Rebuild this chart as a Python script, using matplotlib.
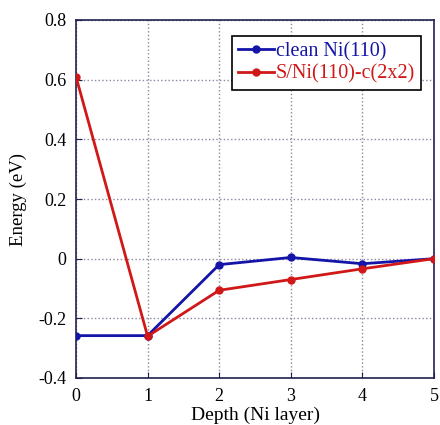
import matplotlib
matplotlib.use("Agg")
import matplotlib.pyplot as plt

depth = [0, 1, 2, 3, 4, 5]
clean = [-0.258, -0.258, -0.02, 0.004, -0.017, 0.0]
sulfur = [0.61, -0.26, -0.106, -0.07, -0.034, 0.0]
labels = ["clean Ni(110)", "S/Ni(110)-c(2x2)"]

plt.rcParams['font.family'] = ['Liberation Serif', 'DejaVu Serif']

fig = plt.figure(figsize=(4.4, 4.25), dpi=100)
ax = fig.add_axes([76/440, 1-378/425, (434-76)/440, (378-20)/425])

blue = '#1414a8'
red = '#d01818'
ax.plot(depth, clean, '-o', color=blue, lw=2, ms=5, label=labels[0], zorder=3)
ax.plot(depth, sulfur, '-o', color=red, lw=2, ms=5, label=labels[1], zorder=4)

ax.set_xlim(0, 5)
ax.set_ylim(-0.4, 0.8)
ax.set_xticks(range(6))
ax.set_yticks([-0.4, -0.2, 0, 0.2, 0.4, 0.6, 0.8])
ax.set_yticklabels(['-0.4', '-0.2', '0', '0.2', '0.4', '0.6', '0.8'])
ax.grid(True, linestyle=':', color='#8888a0', lw=1)
for s in ax.spines.values():
    s.set_color('#202050')
    s.set_linewidth(1.2)
ax.tick_params(labelsize=13, direction='in', length=4, color='#202050', pad=7)
ax.set_xlabel('Depth (Ni layer)', fontsize=14, va='bottom')
ax.xaxis.set_label_coords(0.5, -46/358)
ax.set_ylabel('Energy (eV)', fontsize=13.5, labelpad=8)

leg = ax.legend(loc='upper right', bbox_to_anchor=(0.964, 0.955), fontsize=14.5,
                frameon=True, fancybox=False, edgecolor='black', framealpha=1,
                handlelength=1.8, handletextpad=0.1, borderpad=0.3, labelspacing=0.15,
                borderaxespad=0)
leg.get_frame().set_linewidth(1.2)
for t, c in zip(leg.get_texts(), [blue, red]):
    t.set_color(c)

fig.savefig('out.png', dpi=100)
